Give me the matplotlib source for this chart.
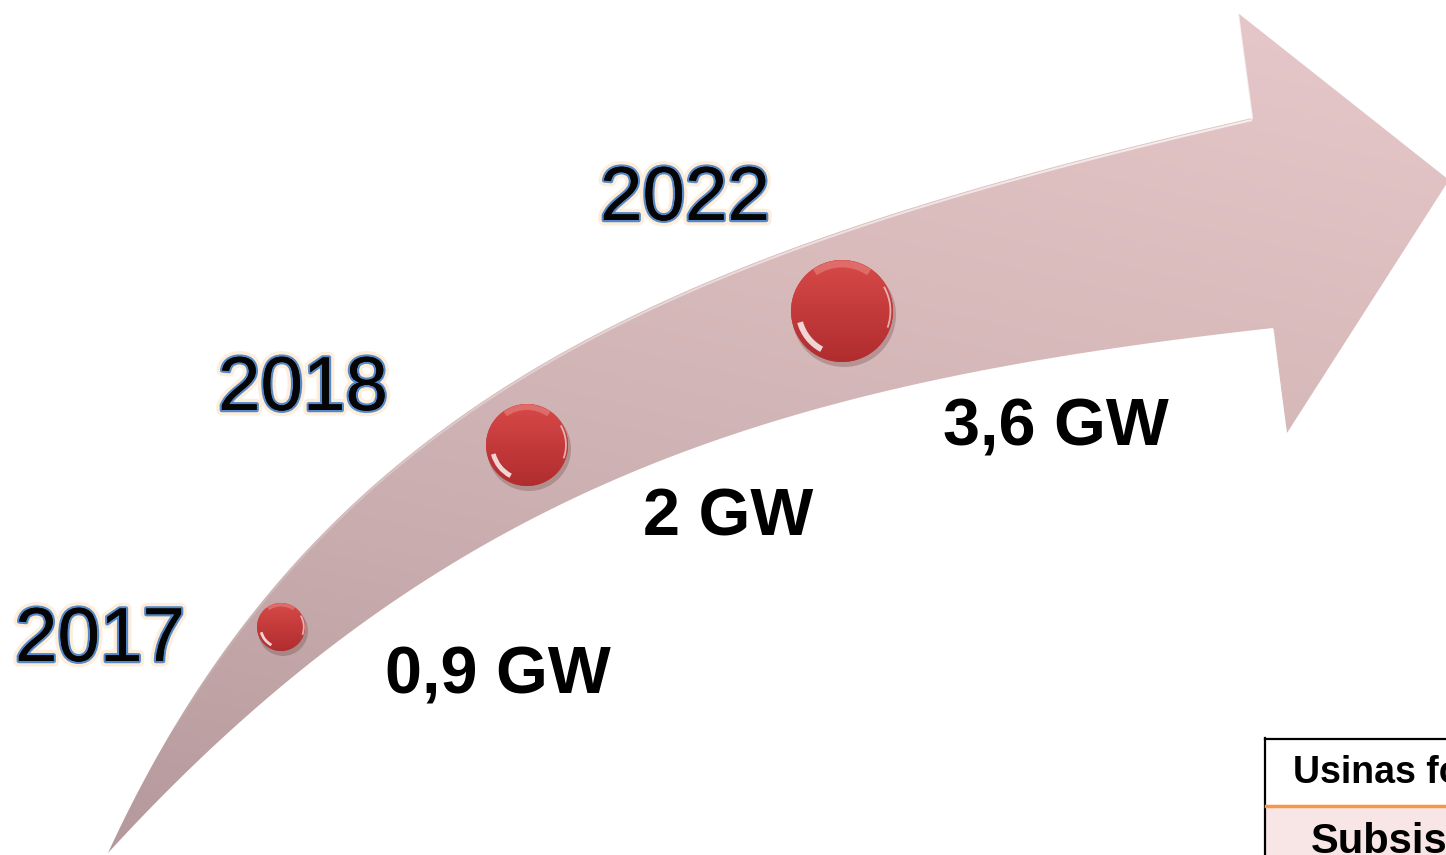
import numpy as np
import matplotlib
matplotlib.use("Agg")
import matplotlib.pyplot as plt
import matplotlib.patheffects as pe
from matplotlib.patches import Polygon, Circle, Rectangle, Arc
from matplotlib.colors import LinearSegmentedColormap

# data
years = ['2017', '2018', '2022']
capacity_gw = [0.9, 2, 3.6]
table_header = 'Usinas fotovoltaicas'
table_row = 'Subsistema'

# layout (pixel space, y down)
W, H = 1446, 855
dot_xy = [(281, 627), (527, 445), (842, 311)]
dot_r = [24, 41, 51]
year_xy = [(13, 661), (216, 410), (598, 220)]
label_xy = [(385, 693), (643, 535), (943, 445)]

# arrow outline as cubic bezier edges (start, ctrl1, ctrl2, end)
upper_edge = [(108, 853), (317, 399), (668, 253), (1252, 118)]
lower_edge = [(108, 853), (446, 484), (776, 383), (1273, 328)]
head = [(1238, 13), (1449, 180), (1287, 433)]


def bezier(ctrl, n=200):
    p0, p1, p2, p3 = [np.array(p, float) for p in ctrl]
    t = np.linspace(0, 1, n)[:, None]
    return ((1 - t) ** 3 * p0 + 3 * (1 - t) ** 2 * t * p1
            + 3 * (1 - t) * t ** 2 * p2 + t ** 3 * p3)


fig = plt.figure(figsize=(W / 100, H / 100), dpi=100)
ax = fig.add_axes([0, 0, 1, 1])
ax.set_xlim(0, W)
ax.set_ylim(H, 0)
ax.set_autoscale_on(False)
ax.axis('off')

up = bezier(upper_edge)
lo = bezier(lower_edge)
outline = np.vstack([up, np.array(head), lo[::-1]])
arrow = Polygon(outline, closed=True, fc='none', ec='none')
ax.add_patch(arrow)

# gradient fill clipped to the arrow
gx, gy = np.meshgrid(np.linspace(0, 1, 200), np.linspace(0, 1, 200))
grad = 0.72 * (1 - gy) + 0.28 * gx
arrow_cmap = LinearSegmentedColormap.from_list(
    'arrow', ['#b3979a', '#c9adae', '#d9bbbc', '#e7c9cb'])
im = ax.imshow(grad, cmap=arrow_cmap, extent=(0, W, H, 0), aspect='auto',
               origin='upper', zorder=1, interpolation='bilinear')
im.set_clip_path(arrow)

# bevel highlights, fading in along the upper edge
n_up = len(up)
for i in range(20, n_up - 1, 4):
    ax.plot(up[i:i + 5, 0], up[i:i + 5, 1] + 2, color='white', lw=1.5,
            alpha=0.75 * i / n_up, zorder=2, solid_capstyle='butt')
ax.plot([1252, 1240, 1238], [118, 30, 13], color='white', lw=1.6, alpha=0.7, zorder=2)
ax.plot([1273, 1285], [330, 430], color='white', lw=1.4, alpha=0.6, zorder=2)

# red dots
dot_cmap = LinearSegmentedColormap.from_list('dot', ['#d64a48', '#c43a3b', '#b02d2f'])
for (cx, cy), r in zip(dot_xy, dot_r):
    ax.add_patch(Circle((cx + 2, cy + 4), r + 1, fc='#6e4040', alpha=0.3,
                        ec='none', zorder=3))
    c = Circle((cx, cy), r, fc='#c23a3b', ec='none', zorder=4)
    ax.add_patch(c)
    dim = ax.imshow(np.linspace(0, 1, 50)[:, None], cmap=dot_cmap,
                    extent=(cx - r, cx + r, cy + r, cy - r), aspect='auto',
                    origin='upper', zorder=4.5)
    dim.set_clip_path(c)
    ax.add_patch(Arc((cx, cy), 1.7 * r, 1.7 * r, theta1=118, theta2=165,
                     color='white', lw=max(2, r / 12), alpha=0.8, zorder=5))
    ax.add_patch(Arc((cx, cy), 1.9 * r, 1.9 * r, theta1=-30, theta2=20,
                     color='white', lw=1.3, alpha=0.6, zorder=5))
    ax.add_patch(Arc((cx, cy), 1.85 * r, 1.85 * r, theta1=235, theta2=305,
                     color='#ea8a88', lw=max(2, r / 10), alpha=0.55, zorder=5))

# year labels
year_fx = [pe.withStroke(linewidth=8, foreground='#fde6cc', alpha=0.7),
           pe.withStroke(linewidth=3.2, foreground='#5588c8'), pe.Normal()]
for yr, (x, y) in zip(years, year_xy):
    ax.text(x + 2, y, yr, fontsize=55, family='Liberation Sans', color='#050505',
            ha='left', va='baseline', zorder=6, path_effects=year_fx)

# capacity labels
for v, (x, y) in zip(capacity_gw, label_xy):
    lab = '{:g}'.format(v).replace('.', ',') + ' GW'
    ax.text(x, y, lab, fontsize=48, family='Liberation Sans', weight='bold',
            color='black', ha='left', va='baseline', zorder=6)

# cropped table bottom right
ax.add_patch(Rectangle((1265, 738), 200, 67, fc='white', ec='none', zorder=6))
ax.add_patch(Rectangle((1265, 806), 200, 60, fc='#f8e5e5', ec='none', zorder=6))
ax.plot([1265, W + 5], [739, 739], color='black', lw=1.6, zorder=7)
ax.plot([1265, 1265], [738, H + 5], color='black', lw=1.6, zorder=7)
ax.plot([1266, W + 5], [805.5, 805.5], color='#f79646', lw=2.5, zorder=7)
ax.text(1293, 783, table_header, fontsize=27, family='Liberation Sans',
        weight='bold', color='black', ha='left', va='baseline', zorder=8)
ax.text(1311, 853, table_row, fontsize=30, family='Liberation Sans',
        weight='bold', color='black', ha='left', va='baseline', zorder=8)

fig.savefig('out.png', dpi=100, facecolor='white')
